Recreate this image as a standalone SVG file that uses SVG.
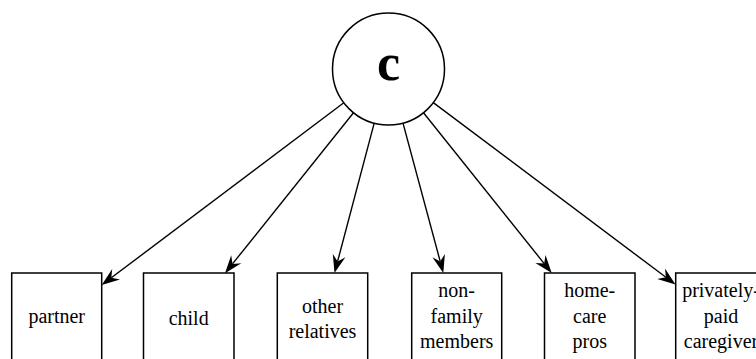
<svg xmlns="http://www.w3.org/2000/svg" width="756" height="359" viewBox="0 0 756 359">
<style>
.box{fill:#ffffff;stroke:#000000;stroke-width:1.5}
.edge{stroke:#000000;stroke-width:1.4;fill:none}
.head{fill:#000000;stroke:none}
text{font-family:"Liberation Serif",serif;font-size:20px;text-anchor:middle;fill:#000000}
</style>
<rect width="756" height="359" fill="#ffffff"/>
<g id="connectors">
<line class="edge" x1="343.8" y1="102.7" x2="111.3" y2="277.8"/>
<polygon class="head" points="101.7,285 112.2,269 111.3,277.8 120,279.4"/>
<line class="edge" x1="353.5" y1="112.7" x2="232.5" y2="263.9"/>
<polygon class="head" points="225,273.3 231.2,255.2 232.5,263.9 241.3,263.3"/>
<line class="edge" x1="374.2" y1="123.1" x2="337.6" y2="261.4"/>
<polygon class="head" points="334.5,273 332.8,253.9 337.6,261.4 345.4,257.3"/>
<line class="edge" x1="403" y1="123.1" x2="440.2" y2="261.4"/>
<polygon class="head" points="443.3,273 432.4,257.3 440.2,261.4 444.9,253.9"/>
<line class="edge" x1="423.5" y1="112.7" x2="544.2" y2="263.6"/>
<polygon class="head" points="551.7,273 535.4,263 544.2,263.6 545.5,254.9"/>
<line class="edge" x1="433.3" y1="102.6" x2="665.9" y2="277.3"/>
<polygon class="head" points="675.5,284.5 657.2,278.9 665.9,277.3 665,268.5"/>
</g>
<g id="c">
<circle cx="388.5" cy="69" r="56" fill="#ffffff" stroke="#000000" stroke-width="1.5"/>
<text x="388.5" y="80" style="font-size:52px;font-weight:bold">c</text>
</g>
<g id="partner">
<rect class="box" x="11.7" y="273" width="90" height="100"/>
<text x="56.7" y="323">partner</text>
</g>
<g id="child">
<rect class="box" x="143.5" y="273" width="90.5" height="100"/>
<text x="188.7" y="325">child</text>
</g>
<g id="other-relatives">
<rect class="box" x="277.3" y="273" width="90.4" height="100"/>
<text x="322.5" y="313">other</text>
<text x="322.5" y="338">relatives</text>
</g>
<g id="non-family-members">
<rect class="box" x="411.7" y="273" width="90" height="100"/>
<text x="456.7" y="297">non-</text>
<text x="456.7" y="322.5">family</text>
<text x="456.7" y="347.5">members</text>
</g>
<g id="home-care-pros">
<rect class="box" x="544.5" y="273" width="90.5" height="100"/>
<text x="589.7" y="297">home-</text>
<text x="589.7" y="322.5">care</text>
<text x="589.7" y="347.5">pros</text>
</g>
<g id="privately-paid-caregiver">
<rect class="box" x="675.7" y="273" width="90.5" height="100"/>
<text x="721" y="297">privately-</text>
<text x="721" y="322.5">paid</text>
<text x="721" y="347.5">caregiver</text>
</g>
</svg>
